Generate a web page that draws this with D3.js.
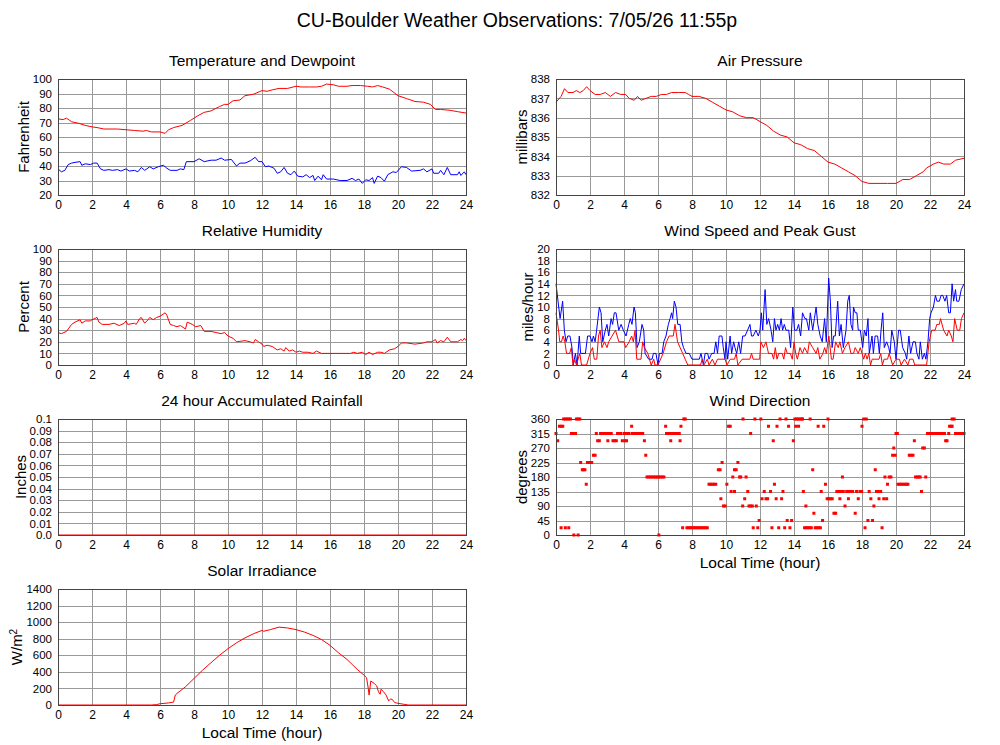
<!DOCTYPE html>
<meta charset="utf-8">
<head>
    <script type="text/javascript" src="https://cdn.jsdelivr.net/npm/d3@7/dist/d3.min.js"></script>
    <style>
        body {
            margin: 0;
            background: white;
        }
        svg text {
            font-family: "Liberation Sans", Arial, Helvetica, sans-serif;
            fill: #000;
        }
        .grid line {
            stroke: #999;
            stroke-width: 1;
        }
        .grid .domain {
            display: none;
        }
        .frame {
            fill: none;
            stroke: #444;
            stroke-width: 1;
        }
        .series {
            fill: none;
            stroke-width: 1;
        }
    </style>
    <title>CU-Boulder Weather Observations</title>
</head>
<body>
<div id="chart"></div>
<script>
    // ---- data (hour of day, value) ----
    var hourTicks = [0, 2, 4, 6, 8, 10, 12, 14, 16, 18, 20, 22, 24];
    var tempTicks = [20, 30, 40, 50, 60, 70, 80, 90, 100];
    var rhTicks = [0, 10, 20, 30, 40, 50, 60, 70, 80, 90, 100];
    var rainTicks = [0, 0.01, 0.02, 0.03, 0.04, 0.05, 0.06, 0.07, 0.08, 0.09, 0.1];
    var solarTicks = [0, 200, 400, 600, 800, 1000, 1200, 1400];
    var pressTicks = [832, 833, 834, 835, 836, 837, 838];
    var windTicks = [0, 2, 4, 6, 8, 10, 12, 14, 16, 18, 20];
    var dirTicks = [0, 45, 90, 135, 180, 225, 270, 315, 360];

    var temperature = [[0,72.5],[0.3,72],[0.5,73],[0.8,70.5],[1.2,69.5],[1.6,68],[2.0,67],[2.3,66.5],[2.7,65.5],[3.0,65.5],
        [3.5,65.5],[4.0,65],[4.5,64.5],[5.0,64],[5.2,64.5],[5.5,63.5],[6.0,63.5],[6.3,62.5],[6.5,65],[6.8,66.5],
        [7.3,68],[7.8,71.5],[8.2,74.5],[8.6,77],[9.0,78],[9.5,81],[9.8,82.5],[10.0,82.5],[10.3,85],[10.7,85.5],
        [11.0,88.5],[11.5,89.5],[12.0,92],[12.3,91.5],[12.6,92.5],[13.0,93.5],[13.5,93.5],[14.0,95],[14.3,94.5],
        [14.8,94.5],[15.2,94.5],[15.5,95],[15.8,96.5],[16.2,96],[16.5,95],[17.0,95],[17.3,95.5],[17.8,95.5],
        [18.2,95],[18.5,94.5],[18.8,95.5],[19.1,94.5],[19.5,93],[20.0,88.5],[20.5,86.5],[21.0,84.5],[21.5,84],
        [21.9,82.5],[22.2,79],[22.5,79],[23.0,78.5],[23.5,77.5],[24,76.5]];

    var dewpoint = [[0,38],[0.2,36],[0.4,37],[0.6,41],[0.8,42],[1.0,42.5],[1.3,43],[1.4,40.5],[1.6,41.5],[1.9,41],
        [2.1,42],[2.3,42],[2.5,38],[2.7,37],[3.0,37.5],[3.2,37],[3.5,37.5],[3.7,36.5],[4.0,38],[4.2,36.5],[4.5,37],
        [4.7,36],[4.9,39],[5.1,37],[5.4,39.5],[5.6,38],[5.9,39.5],[6.2,40.5],[6.4,38.5],[6.6,37],[7.0,37],[7.2,38],
        [7.4,37.5],[7.55,43],[8.0,43],[8.3,45],[8.6,43],[9.0,44],[9.3,44],[9.6,45.5],[9.8,44],[10.2,44.5],[10.5,40],
        [10.7,42],[11.0,42],[11.3,43.5],[11.6,46],[11.8,43],[12.0,43],[12.2,39.5],[12.4,40],[12.7,38.5],[12.9,35],
        [13.1,36],[13.3,39],[13.5,35],[13.7,34],[13.9,36.5],[14.1,33],[14.4,32.5],[14.6,34],[14.8,32],[15.0,33.5],
        [15.1,30],[15.3,33],[15.5,30.5],[15.6,34],[15.8,31],[16.2,31],[16.6,30],[17.0,30],[17.3,31.5],[17.5,30],
        [17.7,31],[17.9,28],[18.1,30.5],[18.3,30],[18.5,32],[18.6,28],[18.8,33],[19.0,32],[19.2,29.5],[19.4,34],
        [19.7,36],[19.9,35.5],[20.2,39.5],[20.5,39],[20.8,36.5],[21.3,37],[21.5,38],[21.7,36],[22.0,38],[22.1,35],
        [22.4,35],[22.5,37],[22.7,34],[22.9,39],[23.1,34],[23.5,34],[23.6,36],[23.7,33.5],[23.9,36],[24,34]];

    var humidity = [[0,28],[0.2,27],[0.5,29],[0.8,35],[1.0,37],[1.3,39],[1.4,36],[1.6,38],[1.9,38],[2.0,39],[2.3,41],
        [2.4,37],[2.6,35],[3.0,35],[3.3,36],[3.6,34],[3.9,36],[4.0,38],[4.1,35],[4.5,36],[4.6,35],[4.8,40],[4.9,41],
        [5.1,36],[5.3,39],[5.4,41],[5.6,39],[5.8,41],[6.0,42],[6.3,45],[6.4,43],[6.6,35],[6.8,34],[7.0,33],[7.2,34],
        [7.5,31],[7.6,37],[7.9,35],[8.1,33],[8.4,34],[8.6,29],[9.0,29],[9.3,28],[9.6,27],[9.8,28],[10.0,25],
        [10.3,23],[10.5,20],[11.0,21],[11.3,20],[11.5,19],[11.6,22],[11.8,20],[12.0,18],[12.1,16],[12.3,17],
        [12.6,16],[12.9,13],[13.1,14],[13.3,12],[13.4,15],[13.6,12],[13.8,13],[14.0,11],[14.2,12],[14.4,11],
        [14.7,11],[15.0,10],[15.2,12],[15.5,10],[16,10],[17.2,10],[17.4,11],[17.6,10],[17.9,11],[18.1,9],[18.3,11],
        [18.5,9],[18.8,11],[19.0,11],[19.2,10],[19.5,13],[19.8,14],[20.0,16],[20.2,19],[20.5,19],[21.0,18],[21.5,19],
        [21.7,20],[22.0,20],[22.2,22],[22.3,19],[22.5,21],[22.7,20],[22.9,24],[23.1,20],[23.5,20],[23.7,22],
        [23.8,21],[23.9,23],[24,21]];

    var rainfall = [[0,0],[24,0]];

    var solar = [[0,0],[5.5,0],[5.8,5],[6.0,15],[6.5,25],[6.8,35],[6.9,120],[7.0,140],[7.5,220],[8.0,320],[8.5,420],
        [9.0,510],[9.5,600],[10.0,680],[10.5,750],[11.0,810],[11.5,860],[12.0,900],[12.1,890],[12.5,910],[13.0,940],
        [13.5,930],[14.0,910],[14.5,880],[15.0,840],[15.5,790],[16.0,720],[16.5,630],[17.0,550],[17.3,490],
        [17.6,430],[18.0,360],[18.15,330],[18.25,200],[18.3,120],[18.4,290],[18.6,260],[18.75,230],[18.85,160],
        [18.95,130],[19.0,190],[19.15,160],[19.3,120],[19.45,50],[19.55,70],[19.65,70],[19.8,30],[20.0,20],
        [20.3,10],[20.6,0],[24,0]];

    var pressure = [[0,836.8],[0.3,837.1],[0.5,837.5],[0.7,837.3],[1.0,837.3],[1.2,837.4],[1.4,837.3],[1.6,837.4],
        [1.8,837.6],[2.0,837.4],[2.3,837.2],[2.6,837.2],[2.9,837.3],[3.2,837.1],[3.5,837.3],[3.8,837.2],[4.1,837.2],
        [4.3,837.0],[4.6,836.9],[4.8,837.1],[5.0,836.9],[5.3,837.0],[5.6,837.1],[5.9,837.1],[6.2,837.2],[6.5,837.2],
        [6.8,837.3],[7.2,837.3],[7.6,837.3],[7.8,837.2],[8.0,837.1],[8.4,837.1],[8.8,837.0],[9.2,836.8],[9.6,836.6],
        [10.0,836.4],[10.4,836.3],[10.8,836.1],[11.2,836.0],[11.6,836.0],[12.0,835.8],[12.4,835.6],[12.8,835.3],
        [13.2,835.1],[13.6,835.0],[14.0,834.7],[14.4,834.6],[14.8,834.4],[15.2,834.3],[15.6,834.0],[16.0,833.7],
        [16.4,833.6],[16.8,833.4],[17.2,833.2],[17.6,833.0],[18.0,832.7],[18.4,832.6],[19.0,832.6],[19.5,832.6],
        [20.0,832.6],[20.4,832.8],[20.8,832.8],[21.2,833.0],[21.6,833.2],[21.8,833.4],[22.2,833.6],[22.5,833.7],
        [22.8,833.6],[23.2,833.6],[23.5,833.8],[24,833.9]];

    var windGust = [[0,14],[0.12,11],[0.24,8],[0.39,11],[0.49,6],[0.59,4],[0.69,5],[0.82,5],[0.94,3],[1.02,0],[1.14,2],
        [1.24,0],[1.37,5],[1.45,2],[1.73,2],[1.86,5],[2.0,5],[2.12,4],[2.2,5],[2.3,4],[2.39,6],[2.55,10],[2.65,9],
        [2.75,4],[2.9,6],[3.0,7],[3.1,5],[3.24,8],[3.33,7],[3.43,9],[3.53,9],[3.69,6],[3.83,7],[3.96,6],[4.12,5],
        [4.28,7],[4.37,8],[4.47,7],[4.59,10],[4.67,9],[4.77,3],[4.9,4],[5.06,7],[5.16,6],[5.24,2],[5.45,1],[5.65,1],
        [5.73,2],[5.88,2],[6.0,0],[6.08,2],[6.24,2],[6.34,4],[6.47,5],[6.61,7],[6.71,8],[6.8,9],[6.86,8],[6.96,11],
        [7.06,10],[7.16,7],[7.3,7],[7.4,4],[7.5,3],[7.65,2],[7.84,2],[8.0,1],[8.43,1],[8.53,2],[8.67,0],[8.77,2],
        [8.92,2],[9.0,1],[9.16,2],[9.3,2],[9.4,4],[9.5,2],[9.6,5],[9.76,5],[9.84,3],[9.94,1],[10.0,4],[10.1,1],
        [10.24,5],[10.33,2],[10.45,4],[10.53,3],[10.63,2],[10.75,4],[10.86,2],[10.98,5],[11.12,5],[11.27,6],
        [11.41,7],[11.5,5],[11.6,5],[11.76,6],[11.9,5],[12.0,6],[12.08,9],[12.16,6],[12.3,13],[12.4,7],[12.51,8],
        [12.65,6],[12.75,4],[12.85,8],[12.94,6],[13.04,7],[13.14,6],[13.24,8],[13.33,6],[13.43,7],[13.53,6],
        [13.69,6],[13.8,3],[13.93,10],[14.03,6],[14.16,6],[14.27,7],[14.39,5],[14.5,9],[14.64,8],[14.73,8],
        [14.87,6],[14.96,9],[15.1,6],[15.2,8],[15.3,10],[15.4,7],[15.54,5],[15.66,4],[15.8,8],[15.9,4],[16.04,15],
        [16.14,11],[16.24,3],[16.33,5],[16.43,5],[16.57,11],[16.67,5],[16.77,7],[16.9,3],[17.06,6],[17.16,11],
        [17.25,12],[17.35,7],[17.45,6],[17.5,10],[17.6,9],[17.7,9],[17.78,6],[17.9,6],[18.04,3],[18.14,6],
        [18.25,5],[18.35,8],[18.43,2],[18.59,5],[18.67,2],[18.77,5],[18.92,5],[19.02,2],[19.12,6],[19.22,9],
        [19.31,3],[19.45,4],[19.57,3],[19.65,2],[19.75,6],[19.9,4],[20.0,1],[20.15,6],[20.25,6],[20.39,3],
        [20.55,2],[20.63,1],[20.76,5],[20.86,2],[21.0,4],[21.14,4],[21.23,2],[21.35,1],[21.43,4],[21.55,1],
        [21.67,2],[21.76,1],[21.88,4],[21.98,8],[22.06,9],[22.2,10],[22.32,12],[22.41,11],[22.55,11],[22.65,12],
        [22.75,12],[22.88,11],[22.98,12],[23.1,9],[23.2,9],[23.3,14],[23.39,11],[23.5,13],[23.57,11],[23.7,11],
        [23.84,13],[24,14]];

    var windSpeed = [[0,9],[0.15,6],[0.22,4],[0.32,4],[0.42,5],[0.52,4],[0.62,2],[0.8,2],[0.9,3],[1.0,0],[1.1,1],
        [1.2,0],[1.3,1],[1.4,2],[1.5,0],[1.8,0],[2.0,2],[2.15,3],[2.25,1],[2.4,1],[2.5,5],[2.6,6],[2.7,3],[2.85,4],
        [3.0,3],[3.1,4],[3.3,5],[3.5,6],[3.7,4],[4.0,4],[4.1,3],[4.3,4],[4.45,5],[4.55,4],[4.65,6],[4.75,1],[5.0,1],
        [5.1,4],[5.2,3],[5.4,2],[5.6,0],[5.75,1],[5.82,0],[6.0,0],[6.3,2],[6.5,4],[6.65,5],[6.9,5],[7.0,7],[7.15,4],
        [7.3,3],[7.45,2],[7.6,1],[7.75,0],[8.5,0],[8.6,1],[8.7,0],[8.9,1],[9.0,0],[9.2,1],[9.35,0],[9.5,1],[9.95,1],
        [10.05,0],[10.25,1],[10.5,1],[10.6,2],[10.7,0],[10.95,1],[11.4,1],[11.5,2],[11.6,1],[11.98,1],[12.05,4],
        [12.2,3],[12.35,4],[12.5,2],[12.7,2],[12.8,1],[12.9,3],[13.0,1],[13.1,2],[13.3,2],[13.4,1],[13.5,3],[13.6,2],
        [13.78,2],[13.9,1],[14.0,4],[14.1,2],[14.2,1],[14.35,3],[14.5,2],[14.62,3],[14.8,2],[14.9,4],[15.1,3],
        [15.3,2],[15.4,3],[15.52,1],[15.7,2],[15.8,3],[15.9,2],[16.05,5],[16.2,1],[16.3,1],[16.45,4],[16.6,3],
        [16.7,4],[16.85,2],[17.0,3],[17.2,4],[17.35,2],[17.5,2],[17.6,3],[17.78,2],[17.9,3],[18.0,2],[18.1,1],
        [18.2,2],[18.3,1],[18.4,2],[18.5,0],[18.6,1],[19.0,1],[19.1,2],[19.2,0],[19.3,1],[19.5,1],[19.6,2],[19.7,1],
        [19.8,0],[20.0,1],[20.2,1],[20.3,0],[20.5,1],[20.7,0],[20.8,1],[21.0,1],[21.1,0],[21.8,0],[21.95,4],[22.1,6],
        [22.3,6],[22.4,7],[22.55,7],[22.62,8],[22.8,6],[23.0,5],[23.1,6],[23.25,5],[23.35,4],[23.45,8],[23.6,6],
        [23.75,6],[23.85,8],[24,9]];

    var windDir = [[0,315],[0.1,292.5],[0.2,337.5],[0.3,337.5],[0.4,337.5],[0.3,22.5],
        [0.45,360],[0.55,360],[0.65,360],[0.75,360],[0.85,360],[0.55,22.5],[0.75,22.5],
        [0.9,315],[1.0,315],[1.05,0],[1.15,315],[1.2,360],[1.3,360],[1.4,360],[1.3,0],
        [1.45,225],[1.55,202.5],[1.62,202.5],[1.7,202.5],[1.78,157.5],[1.85,225],[1.95,225],[2.02,225],[2.1,225],
        [2.2,247.5],[2.3,247.5],[2.37,315],[2.45,292.5],[2.55,292.5],[2.62,315],[2.7,315],[2.8,315],[2.9,315],[3.0,315],
        [3.05,292.5],[3.15,315],[3.25,315],[3.35,292.5],[3.45,292.5],[3.55,292.5],[3.62,315],[3.7,315],[3.8,315],
        [3.9,292.5],[4.05,292.5],[4.15,292.5],[4.0,315],[4.1,315],[4.2,315],[4.3,315],[4.45,337.5],
        [4.5,315],[4.6,315],[4.7,315],[4.8,315],[4.9,315],[5.0,315],[5.1,315],[5.2,292.5],[5.28,247.5],
        [5.35,180],[5.45,180],[5.55,180],[5.65,180],[5.75,180],[5.85,180],[5.95,180],[6.05,180],[6.15,180],[6.25,180],[6.35,180],
        [6.05,0],[6.45,337.5],[6.5,315],[6.6,315],[6.7,315],[6.85,315],[6.95,315],[7.05,315],[7.15,315],[7.25,315],
        [6.75,292.5],[7.3,292.5],[7.35,337.5],[7.45,22.5],[7.52,360],[7.6,360],
        [7.7,22.5],[7.8,22.5],[7.9,22.5],[8.0,22.5],[8.1,22.5],[8.2,22.5],[8.3,22.5],[8.4,22.5],[8.5,22.5],[8.6,22.5],
        [8.7,22.5],[8.8,22.5],[8.9,22.5],[9.0,157.5],[9.1,157.5],[9.2,157.5],[9.3,157.5],[9.4,157.5],
        [9.55,202.5],[9.65,202.5],[9.7,112.5],[9.77,225],[9.85,90],[9.95,90],[10.05,157.5],[10.15,337.5],[10.25,337.5],
        [10.3,135],[10.4,180],[10.5,202.5],[10.6,202.5],[10.5,135],[10.7,225],[10.8,180],[10.87,180],
        [10.98,90],[11.0,360],[11.1,112.5],[11.18,180],[11.28,135],[11.35,90],[11.45,90],[11.55,90],[11.45,315],
        [11.6,22.5],[11.7,360],[11.78,90],[11.87,22.5],[11.95,45],[12.05,360],[12.12,112.5],[12.25,135],[12.35,112.5],
        [12.45,112.5],[12.5,337.5],[12.62,135],[12.7,22.5],[12.78,292.5],[12.85,157.5],[12.95,112.5],[13.0,337.5],
        [13.1,22.5],[13.18,360],[13.27,112.5],[13.35,135],[13.45,22.5],[13.53,360],[13.6,45],[13.68,337.5],[13.76,22.5],
        [13.86,45],[13.96,292.5],[14.05,360],[14.15,360],[14.25,360],[14.1,337.5],[14.27,337.5],[14.35,360],[14.45,360],
        [14.5,360],[14.55,135],[14.62,22.5],[14.72,22.5],[14.82,22.5],[14.92,22.5],[15.02,22.5],[14.7,90],[14.95,360],
        [15.1,202.5],[15.17,67.5],[15.25,22.5],[15.35,22.5],[15.45,22.5],[15.55,22.5],[15.42,337.5],
        [15.6,135],[15.68,45],[15.75,337.5],[15.85,157.5],[15.95,112.5],[16.05,112.5],[16.15,112.5],[16.25,112.5],
        [16.0,360],[16.35,67.5],[16.45,67.5],[16.52,135],[16.62,135],[16.75,135],[16.9,135],[17.1,135],[17.22,135],
        [17.32,135],[16.7,112.5],[16.85,180],[17.0,90],[17.2,112.5],[17.45,135],[17.6,67.5],[17.68,135],[17.78,112.5],
        [17.88,135],[17.98,135],[18.0,337.5],[18.1,360],[18.25,360],[18.18,22.5],[18.35,45],[18.42,135],[18.52,112.5],
        [18.62,45],[18.7,90],[18.78,202.5],[18.85,135],[18.95,135],[19.1,135],[19.0,112.5],[19.18,22.5],[19.28,112.5],
        [19.45,112.5],[19.35,180],[19.5,157.5],[19.6,180],[19.7,180],[19.8,247.5],[19.95,247.5],[19.87,270],
        [20.0,315],[20.08,315],[20.12,157.5],[20.22,157.5],[20.32,157.5],[20.42,157.5],[20.52,157.5],[20.62,157.5],
        [20.7,157.5],[20.78,247.5],[20.88,247.5],[21.0,247.5],[21.08,292.5],[21.15,180],[21.25,180],[21.35,180],
        [21.42,180],[21.5,135],[21.57,270],[21.67,270],[21.75,180],[21.85,315],[21.95,315],[22.05,315],[22.15,315],
        [22.25,315],[22.35,315],[22.45,315],[22.55,315],[22.65,315],[22.75,315],[22.85,315],[22.92,292.5],[23.0,292.5],
        [23.1,315],[23.15,337.5],[23.25,337.5],[23.3,337.5],[23.3,360],[23.42,360],[23.5,315],[23.6,315],[23.7,315],
        [23.8,315],[23.9,315],[24,315]];

    // ---- layout ----
    var w = 1000, h = 745;
    var pw = 408, ph = 116;
    var colX = [58, 556];
    var rowY = [79, 249, 419, 589];

    var svg = d3.select("#chart")
        .append("svg")
        .attr("width", w)
        .attr("height", h);

    svg.append("text")
        .attr("x", 517)
        .attr("y", 27)
        .attr("text-anchor", "middle")
        .style("font-size", "19.5px")
        .text("CU-Boulder Weather Observations: 7/05/26 11:55p");

    // build one gridded panel, returns its scales and group
    function makePanel(x0, y0, yDomain, yTicks, fmt, title, yTitle) {
        var g = svg.append("g").attr("transform", "translate(" + x0 + "," + y0 + ")");
        var x = d3.scaleLinear().domain([0, 24]).range([0, pw]);
        var y = d3.scaleLinear().domain(yDomain).range([ph, 0]);

        var xa = g.append("g")
            .attr("class", "grid")
            .attr("transform", "translate(0," + ph + ")")
            .call(d3.axisBottom(x).tickValues(hourTicks).tickSizeInner(-ph).tickSizeOuter(0).tickPadding(5));
        var ya = g.append("g")
            .attr("class", "grid")
            .call(d3.axisLeft(y).tickValues(yTicks).tickFormat(fmt).tickSizeInner(-pw).tickSizeOuter(0).tickPadding(6));

        g.selectAll(".grid line").attr("shape-rendering", "crispEdges");
        xa.attr("font-family", null).attr("font-size", null);
        ya.attr("font-family", null).attr("font-size", null);
        xa.selectAll("text").style("font-size", "12px");
        ya.selectAll("text").style("font-size", "11.5px");

        g.append("text")
            .attr("x", pw / 2)
            .attr("y", -13)
            .attr("text-anchor", "middle")
            .style("font-size", "15.5px")
            .text(title);

        // y title sits left of the widest tick label
        var maxW = 0;
        ya.selectAll("text").each(function() {
            maxW = Math.max(maxW, this.getComputedTextLength());
        });
        var yt = g.append("text")
            .attr("text-anchor", "middle")
            .attr("transform", "translate(" + (-6 - maxW - 4) + "," + (ph / 2) + ") rotate(-90)")
            .style("font-size", "15px");
        if (yTitle === "W/m2") {
            yt.append("tspan").text("W/m");
            yt.append("tspan").attr("baseline-shift", "super").style("font-size", "10px").text("2");
        } else {
            yt.text(yTitle);
        }

        var plot = g.append("g");
        g.append("rect")
            .attr("class", "frame")
            .attr("width", pw)
            .attr("height", ph)
            .attr("shape-rendering", "crispEdges");
        return {g: g, plot: plot, x: x, y: y};
    }

    function drawLine(p, data, color) {
        var line = d3.line().x(d => p.x(d[0])).y(d => p.y(d[1]));
        p.plot.append("path")
            .datum(data)
            .attr("class", "series")
            .attr("stroke", color)
            .attr("d", line);
    }

    function xTitle(p) {
        p.g.append("text")
            .attr("x", pw / 2)
            .attr("y", ph + 33)
            .attr("text-anchor", "middle")
            .style("font-size", "15.5px")
            .text("Local Time (hour)");
    }

    var fmtInt = d3.format("d");
    var fmtRain = d => d === 0 ? "0.0" : (d === 0.1 ? "0.1" : d3.format(".2f")(d));

    // left column
    var pTemp = makePanel(colX[0], rowY[0], [20, 100], tempTicks, fmtInt, "Temperature and Dewpoint", "Fahrenheit");
    drawLine(pTemp, temperature, "#ff0000");
    drawLine(pTemp, dewpoint, "#0000ff");

    var pRh = makePanel(colX[0], rowY[1], [0, 100], rhTicks, fmtInt, "Relative Humidity", "Percent");
    drawLine(pRh, humidity, "#ff0000");

    var pRain = makePanel(colX[0], rowY[2], [0, 0.1], rainTicks, fmtRain, "24 hour Accumulated Rainfall", "Inches");
    drawLine(pRain, rainfall, "#ff0000");

    var pSolar = makePanel(colX[0], rowY[3], [0, 1400], solarTicks, fmtInt, "Solar Irradiance", "W/m2");
    drawLine(pSolar, solar, "#ff0000");
    xTitle(pSolar);

    // right column
    var pPress = makePanel(colX[1], rowY[0], [832, 838], pressTicks, fmtInt, "Air Pressure", "millibars");
    drawLine(pPress, pressure, "#ff0000");

    var pWind = makePanel(colX[1], rowY[1], [0, 20], windTicks, fmtInt, "Wind Speed and Peak Gust", "miles/hour");
    drawLine(pWind, windGust, "#0000ff");
    drawLine(pWind, windSpeed, "#ff0000");

    var pDir = makePanel(colX[1], rowY[2], [0, 360], dirTicks, fmtInt, "Wind Direction", "degrees");
    pDir.plot.selectAll("rect")
        .data(windDir)
        .enter()
        .append("rect")
        .attr("x", d => pDir.x(d[0]) - 1.5)
        .attr("y", d => pDir.y(d[1]) - 1.5)
        .attr("width", 3)
        .attr("height", 3)
        .attr("fill", "#ff0000");
    xTitle(pDir);
</script>
</body>
</html>
